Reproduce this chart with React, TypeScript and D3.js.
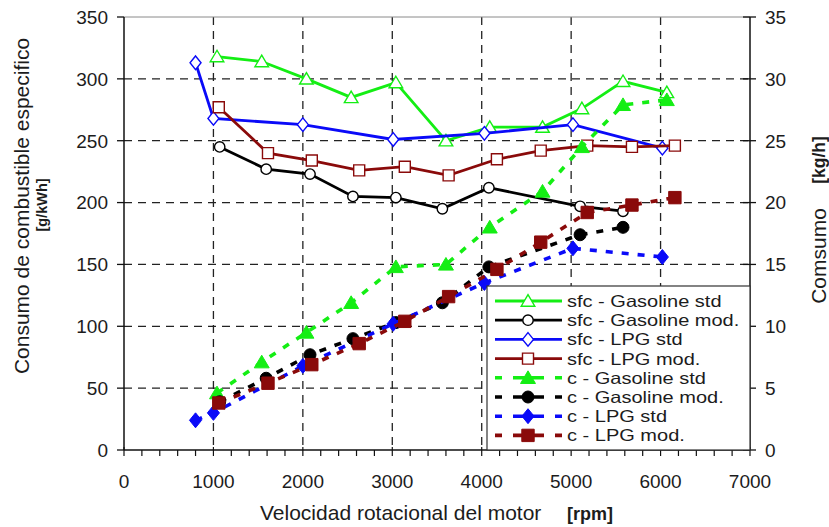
import React, { useRef, useEffect } from 'react';
import * as d3 from 'd3';

// engine speed [rpm] and readings, one set per fuel / engine state
const GAS_STD_RPM = [1040, 1540, 2040, 2540, 3040, 3600, 4090, 4680, 5120, 5580, 6070];
const GAS_STD_SFC = [318, 314, 300, 285, 297, 250, 261, 261, 276, 298, 289];
const GAS_STD_C = [4.6, 7.1, 9.5, 11.9, 14.8, 15.0, 18.0, 20.9, 24.5, 27.9, 28.3];

const GAS_MOD_RPM = [1070, 1590, 2080, 2560, 3040, 3560, 4080, 5100, 5580];
const GAS_MOD_SFC = [245, 227, 223, 205, 204, 195, 212, 197, 193];
const GAS_MOD_C = [3.9, 5.8, 7.7, 9.0, 10.3, 11.9, 14.8, 17.4, 18.0];

const LPG_STD_RPM = [800, 1000, 2000, 3010, 4030, 5020, 6020];
const LPG_STD_SFC = [313, 268, 263, 251, 256, 263, 244];
const LPG_STD_C = [2.4, 3.0, 6.8, 10.2, 13.5, 16.3, 15.6];

const LPG_MOD_RPM = [1060, 1610, 2100, 2630, 3140, 3630, 4170, 4660, 5180, 5680, 6160];
const LPG_MOD_SFC = [277, 240, 234, 226, 229, 222, 235, 242, 246, 245, 246];
const LPG_MOD_C = [3.8, 5.4, 6.9, 8.6, 10.4, 12.4, 14.6, 16.8, 19.2, 19.8, 20.4];

const X_TICKS = [0, 1000, 2000, 3000, 4000, 5000, 6000, 7000];
const Y_LEFT_TICKS = [0, 50, 100, 150, 200, 250, 300, 350];
const Y_RIGHT_TICKS = [0, 5, 10, 15, 20, 25, 30, 35];

type Shape = 'triangle' | 'circle' | 'diamond' | 'square';

interface Series {
  label: string;
  rpm: number[];
  values: number[];
  axis: 'left' | 'right';
  color: string;
  shape: Shape;
  filled: boolean;
}

const GREEN = '#14ee14';
const BLACK = '#000000';
const BLUE = '#0a0af8';
const MAROON = '#8a0a0a';

const SERIES: Series[] = [
  { label: 'sfc - Gasoline std', rpm: GAS_STD_RPM, values: GAS_STD_SFC, axis: 'left', color: GREEN, shape: 'triangle', filled: false },
  { label: 'sfc - Gasoline mod.', rpm: GAS_MOD_RPM, values: GAS_MOD_SFC, axis: 'left', color: BLACK, shape: 'circle', filled: false },
  { label: 'sfc - LPG std', rpm: LPG_STD_RPM, values: LPG_STD_SFC, axis: 'left', color: BLUE, shape: 'diamond', filled: false },
  { label: 'sfc - LPG mod.', rpm: LPG_MOD_RPM, values: LPG_MOD_SFC, axis: 'left', color: MAROON, shape: 'square', filled: false },
  { label: 'c - Gasoline std', rpm: GAS_STD_RPM, values: GAS_STD_C, axis: 'right', color: GREEN, shape: 'triangle', filled: true },
  { label: 'c - Gasoline mod.', rpm: GAS_MOD_RPM, values: GAS_MOD_C, axis: 'right', color: BLACK, shape: 'circle', filled: true },
  { label: 'c - LPG std', rpm: LPG_STD_RPM, values: LPG_STD_C, axis: 'right', color: BLUE, shape: 'diamond', filled: true },
  { label: 'c - LPG mod.', rpm: LPG_MOD_RPM, values: LPG_MOD_C, axis: 'right', color: MAROON, shape: 'square', filled: true },
];

const FONT = '"Liberation Sans", Arial, sans-serif';
const TEXT = '#1c1c1c';

function markerPath(shape: Shape, filled: boolean): string {
  const k = filled ? 1.1 : 1;
  if (shape === 'circle') {
    return d3.symbol(d3.symbolCircle, (filled ? 6 : 5.2) ** 2 * Math.PI)() || '';
  }
  const p = d3.path();
  if (shape === 'triangle') {
    const w = 6.8 * k;
    const h = 11.5 * k;
    p.moveTo(0, -h * 0.55);
    p.lineTo(w, h * 0.45);
    p.lineTo(-w, h * 0.45);
    p.closePath();
  } else if (shape === 'diamond') {
    const w = 5.5 * k;
    const h = 6.8 * k;
    p.moveTo(0, -h);
    p.lineTo(w, 0);
    p.lineTo(0, h);
    p.lineTo(-w, 0);
    p.closePath();
  } else {
    const s = filled ? 6.2 : 5.5;
    p.rect(-s, -s, s * 2, s * 2);
  }
  return p.toString();
}

const FuelChart: React.FC = () => {
  const svgRef = useRef<SVGSVGElement>(null);

  useEffect(() => {
    if (!svgRef.current) return;
    const svg = d3.select(svgRef.current);
    svg.selectAll('*').remove();

    const x = d3.scaleLinear().domain([0, 7000]).range([124, 750]);
    const yLeft = d3.scaleLinear().domain([0, 350]).range([450, 17]);
    const yRight = d3.scaleLinear().domain([0, 35]).range([450, 17]);

    // grid
    const grid = svg.append('g');
    grid
      .selectAll('line.vgrid')
      .data(X_TICKS.filter((t) => t > 0 && t < 7000))
      .enter()
      .append('line')
      .attr('x1', (d) => x(d))
      .attr('x2', (d) => x(d))
      .attr('y1', yLeft(350))
      .attr('y2', yLeft(0))
      .attr('stroke', '#222')
      .attr('stroke-width', 1.3)
      .attr('stroke-dasharray', '8,6');
    grid
      .selectAll('line.hgrid')
      .data(Y_LEFT_TICKS.filter((t) => t > 0 && t < 350))
      .enter()
      .append('line')
      .attr('x1', x(0))
      .attr('x2', x(7000))
      .attr('y1', (d) => yLeft(d))
      .attr('y2', (d) => yLeft(d))
      .attr('stroke', '#222')
      .attr('stroke-width', 1.3)
      .attr('stroke-dasharray', '8,6');
    grid
      .append('line')
      .attr('x1', x(0))
      .attr('x2', x(7000))
      .attr('y1', yLeft(350))
      .attr('y2', yLeft(350))
      .attr('stroke', '#8a8a8a')
      .attr('stroke-width', 1);

    // series
    SERIES.forEach((s) => {
      const y = s.axis === 'left' ? yLeft : yRight;
      const pts = s.rpm.map((r, i) => [x(r), y(s.values[i])] as [number, number]);
      const line = d3.line<[number, number]>();
      svg
        .append('path')
        .attr('d', line(pts))
        .attr('fill', 'none')
        .attr('stroke', s.color)
        .attr('stroke-width', s.filled ? 3.6 : 2.8)
        .attr('stroke-dasharray', s.filled ? '7,9' : null);
      svg
        .append('g')
        .selectAll('path')
        .data(pts)
        .enter()
        .append('path')
        .attr('transform', (d) => `translate(${d[0]},${d[1]})`)
        .attr('d', markerPath(s.shape, s.filled))
        .attr('fill', s.filled ? s.color : '#fff')
        .attr('stroke', s.color)
        .attr('stroke-width', s.filled ? 1 : 1.4);
    });

    // axes
    const axes = svg.append('g').attr('stroke', '#111');
    axes.append('line').attr('x1', x(0)).attr('x2', x(0)).attr('y1', yLeft(350)).attr('y2', yLeft(0)).attr('stroke-width', 1.5);
    axes.append('line').attr('x1', x(7000)).attr('x2', x(7000)).attr('y1', yLeft(350)).attr('y2', yLeft(0)).attr('stroke-width', 1.5);
    axes.append('line').attr('x1', x(0)).attr('x2', x(7000)).attr('y1', yLeft(0)).attr('y2', yLeft(0)).attr('stroke-width', 1.5);

    axes
      .selectAll('line.lt')
      .data(Y_LEFT_TICKS)
      .enter()
      .append('line')
      .attr('x1', x(0) - 7)
      .attr('x2', x(0))
      .attr('y1', (d) => yLeft(d))
      .attr('y2', (d) => yLeft(d))
      .attr('stroke-width', 1.3);
    axes
      .selectAll('line.rt')
      .data(Y_RIGHT_TICKS)
      .enter()
      .append('line')
      .attr('x1', x(7000) - 7)
      .attr('x2', x(7000) + 6)
      .attr('y1', (d) => yRight(d))
      .attr('y2', (d) => yRight(d))
      .attr('stroke-width', 1.3);
    axes
      .selectAll('line.bt')
      .data(d3.range(0, 7001, 200))
      .enter()
      .append('line')
      .attr('x1', (d) => x(d))
      .attr('x2', (d) => x(d))
      .attr('y1', (d) => (d % 1000 === 0 ? yLeft(0) - 3 : yLeft(0)))
      .attr('y2', yLeft(0) + 6)
      .attr('stroke-width', 1.2);

    const labels = svg.append('g').attr('font-family', FONT).attr('fill', TEXT);
    labels
      .selectAll('text.lt')
      .data(Y_LEFT_TICKS)
      .enter()
      .append('text')
      .attr('x', 108)
      .attr('y', (d) => yLeft(d))
      .attr('dy', '0.36em')
      .attr('text-anchor', 'end')
      .attr('font-size', 19)
      .text((d) => d);
    labels
      .selectAll('text.rt')
      .data(Y_RIGHT_TICKS)
      .enter()
      .append('text')
      .attr('x', 765)
      .attr('y', (d) => yRight(d))
      .attr('dy', '0.36em')
      .attr('font-size', 19)
      .text((d) => d);
    labels
      .selectAll('text.bt')
      .data(X_TICKS)
      .enter()
      .append('text')
      .attr('x', (d) => x(d))
      .attr('y', 488)
      .attr('text-anchor', 'middle')
      .attr('font-size', 19)
      .text((d) => d);

    // axis titles
    labels
      .append('text')
      .attr('transform', 'translate(29,206) rotate(-90)')
      .attr('text-anchor', 'middle')
      .attr('font-size', 21)
      .text('Consumo de combustible especifico');
    labels
      .append('text')
      .attr('transform', 'translate(47,205) rotate(-90)')
      .attr('text-anchor', 'middle')
      .attr('font-size', 14.5)
      .attr('font-weight', 'bold')
      .text('[g/kWh]');
    labels
      .append('text')
      .attr('transform', 'translate(826,256) rotate(-90)')
      .attr('text-anchor', 'middle')
      .attr('font-size', 21)
      .text('Comsumo');
    labels
      .append('text')
      .attr('transform', 'translate(825,160) rotate(-90)')
      .attr('text-anchor', 'middle')
      .attr('font-size', 17.5)
      .attr('font-weight', 'bold')
      .text('[kg/h]');
    labels
      .append('text')
      .attr('x', 260)
      .attr('y', 520)
      .attr('font-size', 21)
      .text('Velocidad rotacional del motor');
    labels
      .append('text')
      .attr('x', 567)
      .attr('y', 520)
      .attr('font-size', 18)
      .attr('font-weight', 'bold')
      .text('[rpm]');

    // legend
    const lg = svg.append('g');
    lg.append('rect')
      .attr('x', 487)
      .attr('y', 286)
      .attr('width', x(7000) - 487)
      .attr('height', yLeft(0) - 286)
      .attr('fill', '#fff')
      .attr('stroke', '#333')
      .attr('stroke-width', 1.2);
    SERIES.forEach((s, i) => {
      const cy = 301 + i * 19.2;
      const row = lg.append('g').attr('transform', `translate(0,${cy})`);
      row
        .append('line')
        .attr('x1', 495)
        .attr('x2', 562)
        .attr('y1', 0)
        .attr('y2', 0)
        .attr('stroke', s.color)
        .attr('stroke-width', s.filled ? 3.6 : 2.8)
        .attr('stroke-dasharray', s.filled ? '7,11,31,11,7' : null);
      row
        .append('path')
        .attr('transform', 'translate(528,0)')
        .attr('d', markerPath(s.shape, s.filled))
        .attr('fill', s.filled ? s.color : '#fff')
        .attr('stroke', s.color)
        .attr('stroke-width', s.filled ? 1 : 1.4);
      const t = row
        .append('text')
        .attr('x', 567)
        .attr('y', 0)
        .attr('dy', '0.36em')
        .attr('font-family', FONT)
        .attr('font-size', 16.5)
        .attr('fill', TEXT)
        .text(s.label);
      // widen the smaller legend text back to the reference's width
      const len = (t.node() as SVGTextElement).getComputedTextLength();
      t.attr('textLength', (len * 20) / 16.5).attr('lengthAdjust', 'spacingAndGlyphs');
    });
  }, []);

  return <svg ref={svgRef} width={829} height={527} style={{ position: 'absolute', left: 0, top: 0, background: '#fff' }} />;
};

export default function App() {
  return <FuelChart />;
}
